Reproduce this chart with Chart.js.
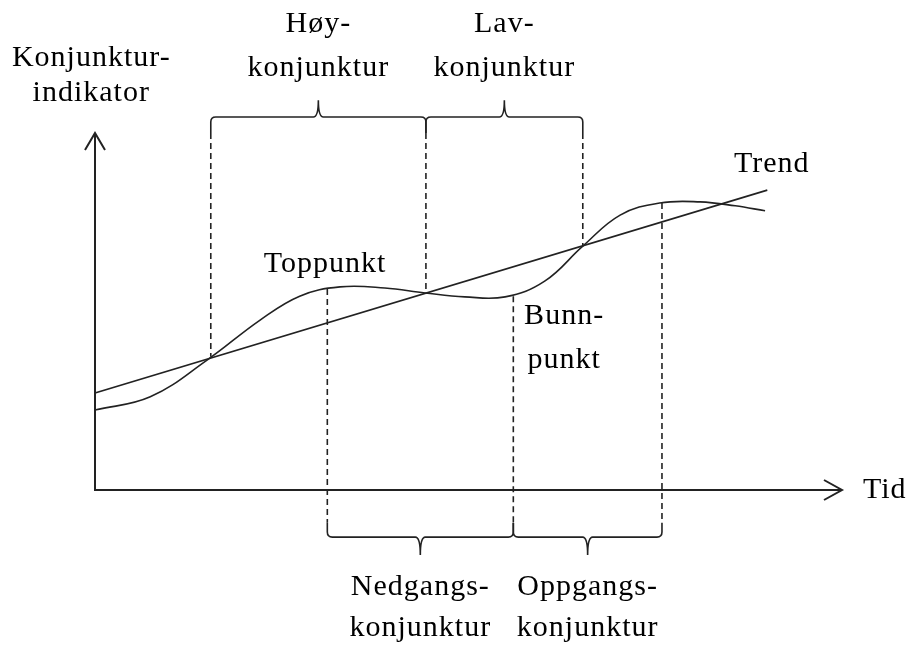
<!DOCTYPE html>
<html>
<head>
<meta charset="utf-8">
<script src="https://cdn.jsdelivr.net/npm/chart.js@4.4.1/dist/chart.umd.min.js"></script>
<style>
  html, body { margin: 0; padding: 0; background: #fff; }
  #wrap { width: 906px; height: 648px; position: relative; }
</style>
</head>
<body>
<div id="wrap"><canvas id="cycleChart"></canvas></div>
<script>
// Konjunktursyklus: indikatoren svinger rundt en stigende trend
const cycleTime  = [0, 7.4, 15.0, 22.1, 27.4, 32.8, 38.8, 44.2, 49.5, 54.9, 60.2, 65.3, 70.3, 75.6, 81.0, 85.7, 89.7];
const cycleValue = [22.4, 26.1, 36.4, 47.6, 54.3, 56.9, 56.6, 55.2, 54.1, 54.1, 58.5, 68.3, 77.0, 80.4, 80.7, 79.6, 78.2];
const trendTime  = [0, 90];
const trendValue = [27.2, 84.0];

// phase boundaries (time) and the level where the dashed line meets the curve
const upperCuts     = [15.5, 44.3, 65.3];
const upperCutLevel = [37.3, 55.2, 68.3];
const lowerCuts     = [31.1, 56.0, 75.9];
const lowerCutLevel = [56.3, 54.3, 80.4];

const upperLabels = [["Høy-", "konjunktur"], ["Lav-", "konjunktur"]];
const lowerLabels = [["Nedgangs-", "konjunktur"], ["Oppgangs-", "konjunktur"]];
const axisTitleY = ["Konjunktur-", "indikator"];
const axisTitleX = "Tid";

const INK = "#222";
const FONT = "30px 'Liberation Serif', 'Times New Roman', serif";

function toPoints(xs, ys) {
  return xs.map((x, i) => ({ x: x, y: ys[i] }));
}

function brace(ctx, x1, x2, yLine, yEnd, yTip) {
  const xm = (x1 + x2) / 2;
  const r = 5;
  const d = Math.sign(yEnd - yLine);
  ctx.beginPath();
  ctx.moveTo(x1, yEnd);
  ctx.lineTo(x1, yLine + d * r);
  ctx.quadraticCurveTo(x1, yLine, x1 + r, yLine);
  ctx.lineTo(xm - r, yLine);
  ctx.quadraticCurveTo(xm, yLine, xm, yTip);
  ctx.quadraticCurveTo(xm, yLine, xm + r, yLine);
  ctx.lineTo(x2 - r, yLine);
  ctx.quadraticCurveTo(x2, yLine, x2, yLine + d * r);
  ctx.lineTo(x2, yEnd);
  ctx.stroke();
}

const diagramPlugin = {
  id: "diagram",
  afterDatasetsDraw(chart) {
    const ctx = chart.ctx;
    const xs = chart.scales.x, ys = chart.scales.y;
    const px = (t) => xs.getPixelForValue(t);
    const py = (v) => ys.getPixelForValue(v);
    const a = chart.chartArea;

    ctx.save();
    ctx.strokeStyle = INK;
    ctx.lineCap = "butt";

    // axes with arrows
    ctx.lineWidth = 2;
    ctx.beginPath();
    ctx.moveTo(a.left, a.top);
    ctx.lineTo(a.left, a.bottom);
    ctx.lineTo(a.right, a.bottom);
    ctx.stroke();
    ctx.beginPath();
    ctx.moveTo(a.left - 10, a.top + 17);
    ctx.lineTo(a.left, a.top);
    ctx.lineTo(a.left + 10, a.top + 17);
    ctx.moveTo(a.right - 18, a.bottom - 10);
    ctx.lineTo(a.right, a.bottom);
    ctx.lineTo(a.right - 18, a.bottom + 10);
    ctx.stroke();

    // dashed phase lines
    ctx.lineWidth = 1.6;
    ctx.setLineDash([6, 4]);
    upperCuts.forEach((t, i) => {
      ctx.beginPath();
      ctx.moveTo(px(t), py(100));
      ctx.lineTo(px(t), py(upperCutLevel[i]));
      ctx.stroke();
    });
    lowerCuts.forEach((t, i) => {
      ctx.beginPath();
      ctx.moveTo(px(t), py(lowerCutLevel[i]));
      ctx.lineTo(px(t), py(-9.2));
      ctx.stroke();
    });
    ctx.setLineDash([]);

    // braces
    ctx.lineWidth = 1.6;
    for (let i = 0; i < upperCuts.length - 1; i++) {
      brace(ctx, px(upperCuts[i]), px(upperCuts[i + 1]), py(104.5), py(100), py(109.2));
    }
    for (let i = 0; i < lowerCuts.length - 1; i++) {
      brace(ctx, px(lowerCuts[i]), px(lowerCuts[i + 1]), py(-13.2), py(-9.2), py(-18.2));
    }

    // text
    ctx.fillStyle = "#000";
    ctx.font = FONT;
    ctx.letterSpacing = "1px";
    ctx.textBaseline = "middle";
    ctx.textAlign = "center";
    upperLabels.forEach((lines, i) => {
      const xm = (px(upperCuts[i]) + px(upperCuts[i + 1])) / 2;
      ctx.fillText(lines[0], xm, py(130.5));
      ctx.fillText(lines[1], xm, py(118.2));
    });
    lowerLabels.forEach((lines, i) => {
      const xm = (px(lowerCuts[i]) + px(lowerCuts[i + 1])) / 2;
      ctx.fillText(lines[0], xm, py(-27.2));
      ctx.fillText(lines[1], xm, py(-38.7));
    });
    ctx.fillText(axisTitleY[0], px(-0.5), py(121.0));
    ctx.fillText(axisTitleY[1], px(-0.5), py(111.2));
    ctx.fillText("Toppunkt", px(30.8), py(63.2));
    ctx.fillText("Bunn-", px(62.8), py(48.8));
    ctx.fillText("punkt", px(62.8), py(36.4));
    ctx.fillText("Trend", px(90.6), py(91.2));
    ctx.textAlign = "left";
    ctx.fillText(axisTitleX, a.right + 21, a.bottom);
    ctx.restore();
  }
};

new Chart(document.getElementById("cycleChart"), {
  type: "scatter",
  data: {
    datasets: [
      {
        label: "Konjunkturindikator",
        data: toPoints(cycleTime, cycleValue),
        showLine: true,
        borderColor: INK,
        borderWidth: 1.6,
        pointRadius: 0,
        tension: 0.4,
        clip: false
      },
      {
        label: "Trend",
        data: toPoints(trendTime, trendValue),
        showLine: true,
        borderColor: INK,
        borderWidth: 1.6,
        pointRadius: 0,
        clip: false
      }
    ]
  },
  options: {
    responsive: true,
    maintainAspectRatio: false,
    animation: false,
    layout: { padding: { left: 95, right: 64, top: 133, bottom: 158 } },
    plugins: {
      legend: { display: false },
      tooltip: { enabled: false }
    },
    scales: {
      x: { type: "linear", min: 0, max: 100, display: false },
      y: { type: "linear", min: 0, max: 100, display: false }
    }
  },
  plugins: [diagramPlugin]
});
</script>
</body>
</html>
